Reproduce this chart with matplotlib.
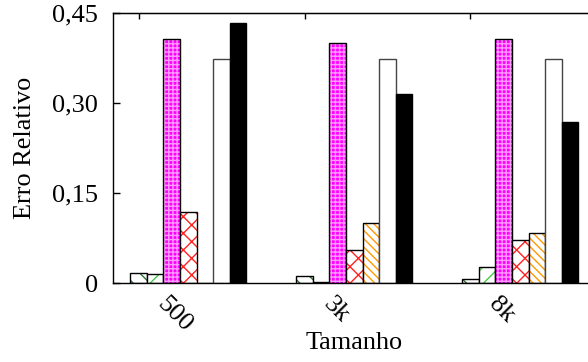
import matplotlib
matplotlib.use("Agg")
import matplotlib.pyplot as plt
import numpy as np

plt.rcParams['font.family'] = ['Liberation Serif', 'DejaVu Serif']
plt.rcParams['hatch.linewidth'] = 1.0

groups = ['500', '3k', '8k']
# seven series per group
s1 = [0.017, 0.012, 0.007]
s2 = [0.016, 0.003, 0.027]
s3 = [0.407, 0.399, 0.407]
s4 = [0.118, 0.055, 0.073]
s5 = [0.0, 0.100, 0.084]
s6 = [0.373, 0.373, 0.373]
s7 = [0.433, 0.315, 0.268]
series = [s1, s2, s3, s4, s5, s6, s7]

# (face, hatch colour, hatch)
styles = [
    ('white', '#2f6f3a', '\\\\'),
    ('white', '#44cc44', '//'),
    ('#ff00ff', '#ff99ff', '++++'),
    ('white', '#ff2020', 'xx'),
    ('white', '#ff9900', '\\\\\\\\'),
    ('white', None, None),
    ('black', None, None),
]

fig = plt.figure(figsize=(5.88, 3.62), dpi=100)
ax = fig.add_axes([0.1922, 0.2169, 0.8078, 0.7480])

x = np.arange(len(groups))
w = 0.1
for j, vals in enumerate(series):
    face, hc, hatch = styles[j]
    pos = x + j * w
    if hatch:
        ax.bar(pos, vals, w, color=face, edgecolor=hc, hatch=hatch, linewidth=0)
        ax.bar(pos, vals, w, fill=False, edgecolor='black', linewidth=1.0)
    else:
        ec = '#444444' if face == 'white' else 'black'
        ax.bar(pos, vals, w, color=face, edgecolor=ec, linewidth=1.0)

ax.set_xlim(-0.154, 2.708)
ax.set_ylim(0, 0.45)
ax.set_yticks([0, 0.15, 0.30, 0.45])
ax.set_yticklabels(['0', '0,15', '0,30', '0,45'])
ax.tick_params(axis='y', direction='in', length=5, width=1, pad=11, labelsize=18.9)

ax.set_xticks(x + 0.18)
ax.set_xticklabels(groups, rotation=-45, ha='left', va='top', rotation_mode='anchor')
ax.tick_params(axis='x', length=0, pad=7, labelsize=18.9)

sec = ax.secondary_xaxis('top')
sec.set_xticks(x)
sec.set_xticklabels([])
sec.tick_params(direction='in', length=4, width=1)

ax.spines['right'].set_visible(False)
for s in ['left', 'bottom', 'top']:
    ax.spines[s].set_linewidth(1.0)

ax.set_ylabel('Erro Relativo', fontsize=18.9)
ax.yaxis.set_label_coords(-0.162, 0.5)
ax.set_xlabel('Tamanho', fontsize=18.9)
ax.xaxis.set_label_coords(0.507, -0.179)

fig.savefig('out.png', dpi=100)
